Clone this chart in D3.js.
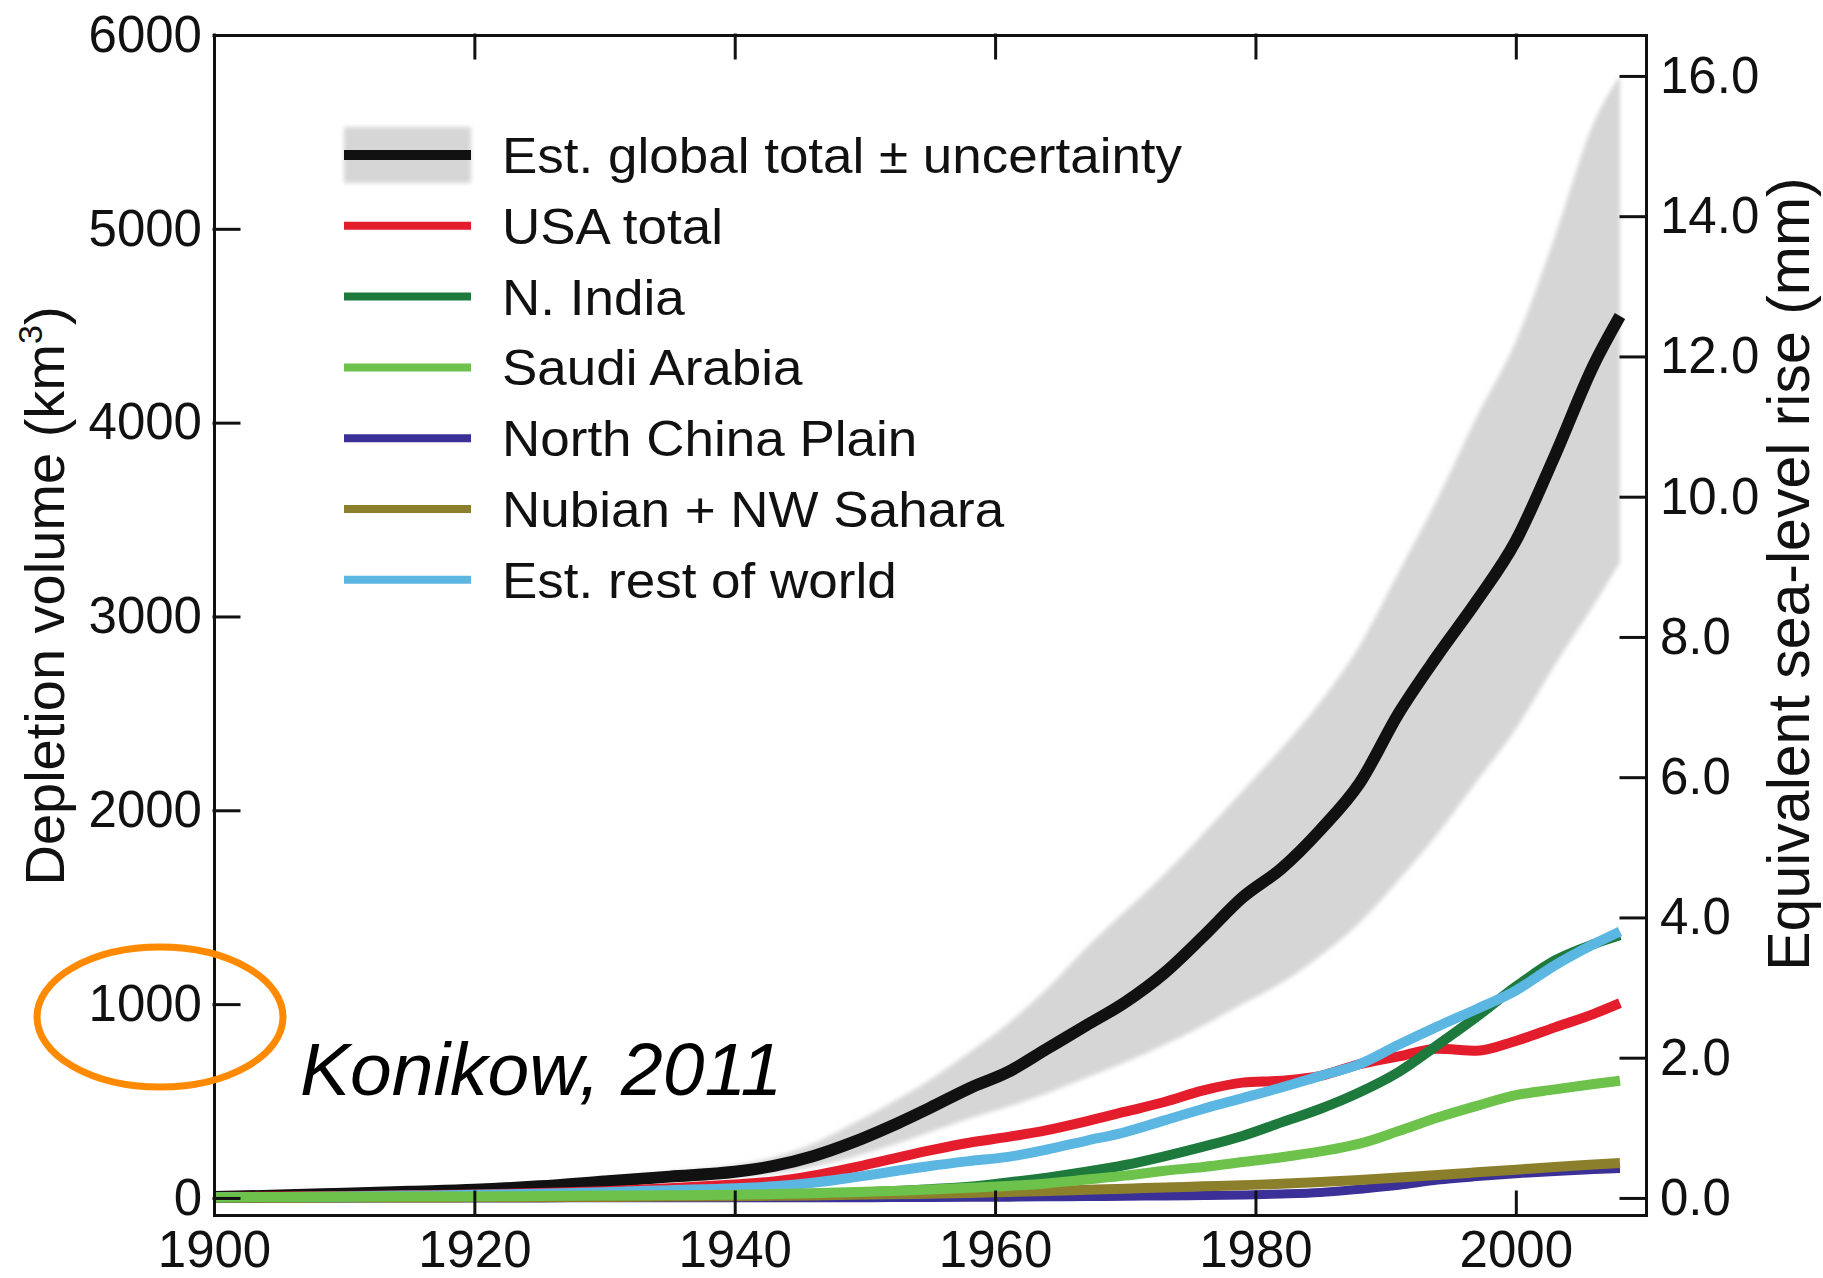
<!DOCTYPE html>
<html>
<head>
<meta charset="utf-8">
<script src="https://cdn.jsdelivr.net/npm/d3@7"></script>
<style>
  body { margin: 0; background: #fff; }
  svg { display: block; font-family: "Liberation Sans", Arial, Helvetica, sans-serif; }
</style>
</head>
<body>
<svg id="chart" width="1823" height="1278"></svg>
<script>
// Cumulative groundwater depletion, km³ (years shared by every series)
const years = [1900,1905,1910,1915,1920,1925,1930,1935,1940,1943,1946,1949,1952,1955,1958,1961,
               1964,1967,1970,1973,1976,1979,1982,1985,1988,1991,1994,1997,2000,2003,2006,2008];

const globalTotal = [5,12,22,32,42,60,85,110,135,165,215,285,370,465,565,650,
                     770,890,1010,1160,1350,1550,1700,1900,2140,2500,2800,3080,3390,3830,4300,4550];
const globalUpper = [8,15,28,40,52,75,105,135,170,210,280,380,490,610,750,900,
                     1080,1290,1480,1670,1880,2100,2320,2560,2850,3230,3610,4030,4420,4960,5550,5790];
const globalLower = [2,9,17,25,33,48,68,88,105,125,160,210,270,340,410,470,
                     540,620,700,790,890,1000,1110,1250,1420,1640,1880,2150,2420,2750,3060,3280];

const usaTotal        = [5,7,10,14,18,25,35,50,70,85,115,155,200,245,285,315,
                         350,395,445,495,555,595,605,630,690,730,770,760,810,880,950,1005];
const northIndia      = [2,3,4,5,6,8,10,12,15,18,22,27,35,45,58,80,
                         105,135,170,215,265,320,390,460,545,650,790,935,1090,1225,1310,1355];
const saudiArabia     = [4,5,6,7,8,10,12,14,17,20,24,30,36,43,52,62,
                         75,95,115,140,160,185,210,240,280,345,415,475,530,560,588,605];
const northChinaPlain = [0,0,0,0,0,0,1,1,1,1,1,1,2,2,3,4,
                         6,7,9,10,12,15,20,28,45,65,92,110,125,137,147,152];
const nubianSahara    = [1,1,2,2,3,4,5,7,9,11,13,16,19,22,26,31,
                         36,42,48,54,60,66,73,82,92,105,118,132,146,160,172,180];
const restOfWorld     = [3,5,8,12,16,22,30,40,50,60,78,105,135,165,190,212,
                         250,295,340,400,460,515,570,630,690,790,885,975,1070,1200,1310,1375];

// Legend entries (display order)
const legendLabels = ["Est. global total \u00b1 uncertainty","USA total","N. India","Saudi Arabia",
                      "North China Plain","Nubian + NW Sahara","Est. rest of world"];
const legendColors = ["#111111","#e41d2d","#1d7a3c","#6cc24a","#3b2f98","#8c7f2b","#5cb6e2"];

// Axis ticks
const xTicks  = [1900,1920,1940,1960,1980,2000];
const yTicks  = [0,1000,2000,3000,4000,5000,6000];
const mmTicks = [0,2,4,6,8,10,12,14,16];
const km3PerMm = 361.8;   // km³ of water per mm of global sea level

const svg = d3.select("#chart");
const plot = { left: 214, right: 1646, top: 35, bottom: 1215 };
const yMin = -88, yMax = 6000;

const x = d3.scaleLinear().domain([1900, 2010]).range([plot.left, plot.right]);
const y = d3.scaleLinear().domain([yMin, yMax]).range([plot.bottom, plot.top]);
const yMm = d3.scaleLinear().domain([yMin / km3PerMm, yMax / km3PerMm]).range([plot.bottom, plot.top]);

const defs = svg.append("defs");
defs.append("filter").attr("id", "soft").attr("x", "-5%").attr("y", "-5%").attr("width", "110%").attr("height", "110%")
  .append("feGaussianBlur").attr("stdDeviation", 2.2);
defs.append("clipPath").attr("id", "plotClip").append("rect")
  .attr("x", plot.left).attr("y", plot.top)
  .attr("width", plot.right - plot.left).attr("height", plot.bottom - plot.top);

const inner = svg.append("g").attr("clip-path", "url(#plotClip)");

// Uncertainty envelope of the global total
const band = d3.area()
  .x((d, i) => x(years[i]))
  .y0((d, i) => y(globalLower[i]))
  .y1((d, i) => y(globalUpper[i]))
  .curve(d3.curveMonotoneX);
inner.append("path").datum(years).attr("d", band)
  .attr("fill", "#d6d6d6").attr("filter", "url(#soft)");

const line = d3.line().x(d => x(d[0])).y(d => y(d[1])).curve(d3.curveMonotoneX);
const pairs = vals => years.map((yr, i) => [yr, vals[i]]);

// Draw order: global first, then regional series on top
const drawn = [
  { vals: globalTotal,     color: legendColors[0], w: 12 },
  { vals: usaTotal,        color: legendColors[1], w: 10 },
  { vals: northIndia,      color: legendColors[2], w: 10 },
  { vals: northChinaPlain, color: legendColors[4], w: 9 },
  { vals: nubianSahara,    color: legendColors[5], w: 10 },
  { vals: restOfWorld,     color: legendColors[6], w: 10 },
  { vals: saudiArabia,     color: legendColors[3], w: 10 }
];
drawn.forEach(s => {
  inner.append("path").datum(pairs(s.vals)).attr("d", line)
    .attr("fill", "none").attr("stroke", s.color).attr("stroke-width", s.w)
    .attr("stroke-linejoin", "round");
});

// Axes: ticks point inward on all four sides
function styleAxis(g) {
  g.attr("font-family", "'Liberation Sans', Arial, sans-serif").attr("font-size", 51);
  g.selectAll("path, line").attr("stroke", "#111").attr("stroke-width", 3).attr("stroke-linecap", "square");
  g.selectAll("text").attr("fill", "#111");
}
svg.append("g").attr("transform", `translate(0,${plot.bottom})`)
  .call(d3.axisBottom(x).tickValues(xTicks).tickSize(-23).tickSizeOuter(0).tickPadding(16).tickFormat(d3.format("d")))
  .call(styleAxis);
svg.append("g").attr("transform", `translate(0,${plot.top})`)
  .call(d3.axisTop(x).tickValues(xTicks).tickSize(-23).tickSizeOuter(0).tickFormat(() => ""))
  .call(styleAxis);
svg.append("g").attr("transform", `translate(${plot.left},0)`)
  .call(d3.axisLeft(y).tickValues(yTicks).tickSize(-25).tickSizeOuter(0).tickPadding(12).tickFormat(d3.format("d")))
  .call(styleAxis);
svg.append("g").attr("transform", `translate(${plot.right},0)`)
  .call(d3.axisRight(yMm).tickValues(mmTicks).tickSize(-25).tickSizeOuter(0).tickPadding(14).tickFormat(d3.format(".1f")))
  .call(styleAxis);

// Axis titles
const yTitle = svg.append("text")
  .attr("transform", "translate(64,596) rotate(-90)")
  .attr("text-anchor", "middle").attr("font-size", 56).attr("fill", "#111");
yTitle.append("tspan").text("Depletion volume (km");
yTitle.append("tspan").attr("font-size", 34).attr("dy", -22).text("3");
yTitle.append("tspan").attr("dy", 22).text(")");

svg.append("text")
  .attr("transform", "translate(1809,574) rotate(-90)")
  .attr("text-anchor", "middle").attr("font-size", 59).attr("fill", "#111")
  .text("Equivalent sea-level rise (mm)");

// Legend
const legend = svg.append("g");
const rowY = i => 155 + i * 70.8;
legend.append("rect").attr("x", 344).attr("y", rowY(0) - 28).attr("width", 127).attr("height", 56)
  .attr("fill", "#d6d6d6").attr("filter", "url(#soft)");
legendLabels.forEach((lab, i) => {
  legend.append("line").attr("x1", 344).attr("x2", 471).attr("y1", rowY(i)).attr("y2", rowY(i))
    .attr("stroke", legendColors[i]).attr("stroke-width", i === 0 ? 10 : 8);
  legend.append("text")
    .attr("transform", `translate(502,${rowY(i) + 18}) scale(1.06,1)`)
    .attr("font-size", 50).attr("fill", "#111").text(lab);
});

// Source note and highlight ring
svg.append("text").attr("x", 300).attr("y", 1095)
  .attr("font-size", 75).attr("font-style", "italic").attr("fill", "#000")
  .text("Konikow, 2011");

svg.append("ellipse").attr("cx", 160).attr("cy", 1017).attr("rx", 123).attr("ry", 70)
  .attr("fill", "none").attr("stroke", "#ff8a00").attr("stroke-width", 7);
</script>
</body>
</html>
